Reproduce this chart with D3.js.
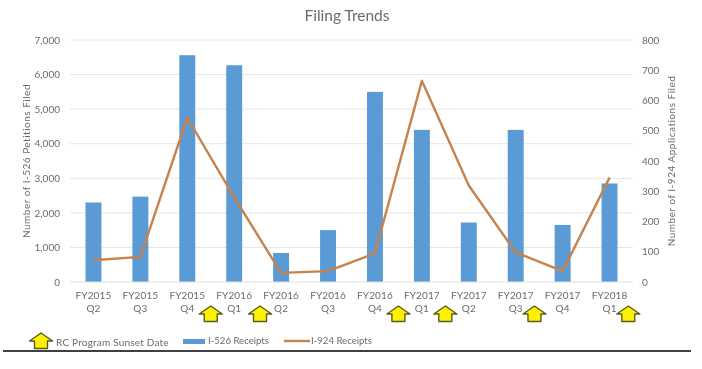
<!DOCTYPE html>
<html>
<head>
<meta charset="utf-8">
<script src="https://d3js.org/d3.v7.min.js"></script>
<style>
html, body { margin: 0; padding: 0; background: #fff; }
svg { display: block; filter: blur(0.35px); }
text { font-family: Lato, "Open Sans", sans-serif; fill: #6b6b6b; }
</style>
</head>
<body>
<div id="chart"></div>
<script>
var quarters = ['FY2015 Q2', 'FY2015 Q3', 'FY2015 Q4', 'FY2016 Q1', 'FY2016 Q2', 'FY2016 Q3',
    'FY2016 Q4', 'FY2017 Q1', 'FY2017 Q2', 'FY2017 Q3', 'FY2017 Q4', 'FY2018 Q1'];
var i526 = [2300, 2470, 6560, 6270, 840, 1500, 5500, 4400, 1720, 4400, 1650, 2850];
var i924 = [72, 83, 543, 280, 30, 36, 95, 665, 319, 98, 36, 345];
// sunset dates, as positions along the quarter sequence
var sunsetDates = [2.5, 3.55, 6.5, 7.5, 9.4, 11.4];
var leftTicks = [0, 1000, 2000, 3000, 4000, 5000, 6000, 7000];
var rightTicks = [0, 100, 200, 300, 400, 500, 600, 700, 800];

var width = 702,
    height = 369,
    margin = { top: 40, right: 69, bottom: 87, left: 70 },
    innerW = width - margin.left - margin.right,
    innerH = height - margin.top - margin.bottom;

var svg = d3.select('#chart').append('svg')
    .attr('width', width)
    .attr('height', height);

var g = svg.append('g')
    .attr('transform', 'translate(' + margin.left + ',' + margin.top + ')');

var x = d3.scaleBand().domain(d3.range(quarters.length)).range([0, innerW]).paddingInner(0.66).paddingOuter(0.33);
var yLeft = d3.scaleLinear().domain([0, 7000]).range([innerH, 0]);
var yRight = d3.scaleLinear().domain([0, 800]).range([innerH, 0]);

// position of a (possibly fractional) quarter index
function xPos(i) {
    return x(0) + x.bandwidth() / 2 + i * x.step();
}

// grid
g.append('g').selectAll('line')
    .data(leftTicks.slice(1))
    .join('line')
    .attr('x1', 0)
    .attr('x2', innerW)
    .attr('y1', function (d) { return yLeft(d); })
    .attr('y2', function (d) { return yLeft(d); })
    .attr('stroke', '#e6e6e6')
    .attr('stroke-width', 1);

// left axis
var axisL = g.append('g')
    .call(d3.axisLeft(yLeft).tickValues(leftTicks).tickFormat(d3.format(',')).tickSize(0).tickPadding(10));
axisL.select('.domain').remove();
axisL.selectAll('text').style('font-size', '10px').style('font-family', 'Lato').attr('fill', '#6b6b6b');

// right axis
var axisR = g.append('g')
    .attr('transform', 'translate(' + innerW + ',0)')
    .call(d3.axisRight(yRight).tickValues(rightTicks).tickSize(0).tickPadding(9));
axisR.select('.domain').remove();
axisR.selectAll('text').style('font-size', '10px').style('font-family', 'Lato').attr('fill', '#6b6b6b');

// bars
g.append('g').selectAll('rect')
    .data(i526)
    .join('rect')
    .attr('x', function (d, i) { return x(i); })
    .attr('y', function (d) { return yLeft(d); })
    .attr('width', x.bandwidth())
    .attr('height', function (d) { return innerH - yLeft(d); })
    .attr('fill', '#5b9bd5');

// baseline
g.append('line')
    .attr('x1', 0)
    .attr('x2', innerW)
    .attr('y1', innerH)
    .attr('y2', innerH)
    .attr('stroke', '#e0e0e0');

// line
var line = d3.line()
    .x(function (d, i) { return xPos(i); })
    .y(function (d) { return yRight(d); });

g.append('path')
    .datum(i924)
    .attr('fill', 'none')
    .attr('stroke', '#c8824b')
    .attr('stroke-width', 2.4)
    .attr('stroke-linejoin', 'round')
    .attr('d', line);

// category labels, two lines each
var labels = g.append('g').selectAll('text')
    .data(quarters)
    .join('text')
    .attr('text-anchor', 'middle')
    .style('font-size', '10px')
    .style('letter-spacing', '0.1px');

labels.append('tspan')
    .attr('x', function (d, i) { return xPos(i); })
    .attr('y', innerH + 17)
    .text(function (d) { return d.split(' ')[0]; });
labels.append('tspan')
    .attr('x', function (d, i) { return xPos(i); })
    .attr('y', innerH + 30)
    .text(function (d) { return d.split(' ')[1]; });

// arrow marker
function arrow(sel) {
    sel.append('path')
        .attr('d', 'M-11.5,0 L0,-8 L11.5,0 L6.5,0 L6.5,7.5 L-6.5,7.5 L-6.5,0 Z')
        .attr('fill', '#fff200')
        .attr('stroke', '#5c5a1e')
        .attr('stroke-width', 1.4)
        .attr('stroke-linejoin', 'round');
}

g.append('g').selectAll('g')
    .data(sunsetDates)
    .join('g')
    .attr('transform', function (d) { return 'translate(' + xPos(d) + ',' + (innerH + 32) + ')'; })
    .call(arrow);

// title
svg.append('text')
    .attr('x', 347)
    .attr('y', 21)
    .attr('text-anchor', 'middle')
    .style('font-size', '15.5px')
    .text('Filing Trends');

// axis titles
svg.append('text')
    .attr('transform', 'translate(30,161) rotate(-90)')
    .attr('text-anchor', 'middle')
    .style('font-size', '10px')
    .style('letter-spacing', '0.5px')
    .text('Number of I-526 Petitions Filed');

svg.append('text')
    .attr('transform', 'translate(675,161) rotate(-90)')
    .attr('text-anchor', 'middle')
    .style('font-size', '10px')
    .style('letter-spacing', '0.5px')
    .text('Number of I-924 Applications Filed');

// legend
var legend = svg.append('g');
legend.append('g').attr('transform', 'translate(41,341)').call(arrow);
legend.append('text').attr('x', 56).attr('y', 346).style('font-size', '10px').style('letter-spacing', '0.2px').text('RC Program Sunset Date');
legend.append('rect').attr('x', 183).attr('y', 339).attr('width', 22).attr('height', 5).attr('fill', '#5b9bd5');
legend.append('text').attr('x', 208).attr('y', 344).style('font-size', '9.6px').text('I-526 Receipts');
legend.append('line').attr('x1', 284).attr('x2', 310).attr('y1', 341).attr('y2', 341).attr('stroke', '#c8824b').attr('stroke-width', 2.4);
legend.append('text').attr('x', 311).attr('y', 344).style('font-size', '9.6px').text('I-924 Receipts');

// rule under the chart
svg.append('line')
    .attr('x1', 3)
    .attr('x2', 691)
    .attr('y1', 351)
    .attr('y2', 351)
    .attr('stroke', '#000')
    .attr('stroke-width', 1.5);
</script>
</body>
</html>
